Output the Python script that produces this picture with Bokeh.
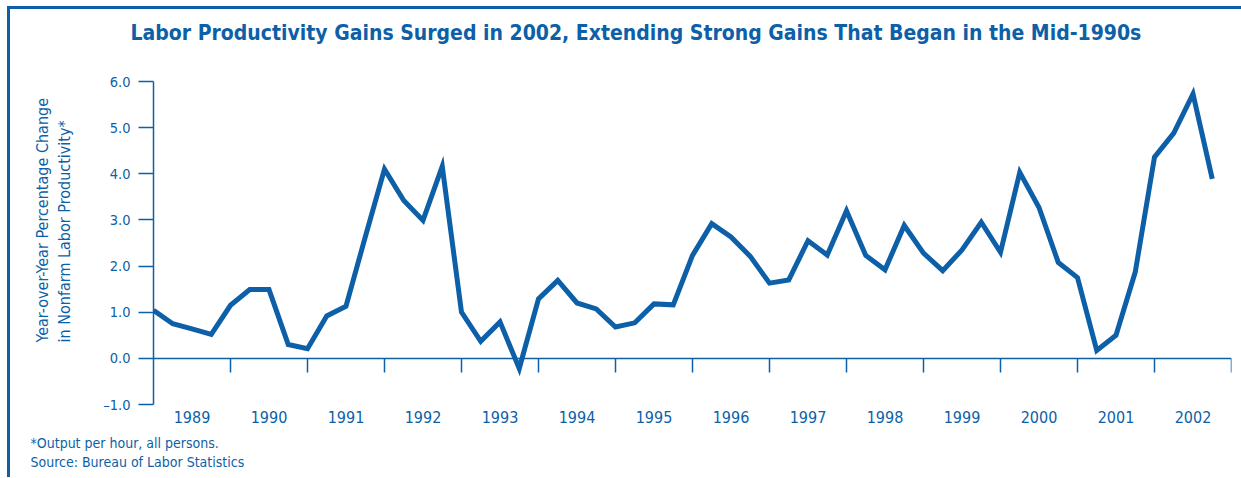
from bokeh.plotting import figure
from bokeh.models import LinearAxis, FixedTicker, Title, Range1d
from bokeh.embed import file_html
from bokeh.resources import INLINE

# ---- data ----
years = list(range(1989, 2003))
quarters_per_year = 4
productivity = [1.04, 0.75, 0.64, 0.52, 1.15, 1.49, 1.49, 0.30, 0.21, 0.92,
                1.13, 2.63, 4.10, 3.42, 2.99, 4.16, 1.00, 0.37, 0.79, -0.22,
                1.29, 1.69, 1.20, 1.07, 0.68, 0.77, 1.18, 1.16, 2.23, 2.92,
                2.63, 2.21, 1.63, 1.70, 2.55, 2.24, 3.20, 2.23, 1.92, 2.88,
                2.28, 1.90, 2.35, 2.95, 2.30, 4.03, 3.27, 2.08, 1.75, 0.17,
                0.50, 1.87, 4.36, 4.88, 5.73, 3.89]
y_ticks = [-1, 0, 1, 2, 3, 4, 5, 6]
y_tick_labels = ["\u20131.0", "0.0", "1.0", "2.0", "3.0", "4.0", "5.0", "6.0"]
year_labels = [str(y) for y in years]

title_text = "Labor Productivity Gains Surged in 2002, Extending Strong Gains That Began in the Mid-1990s"
ylabel_lines = ["Year-over-Year Percentage Change", "in Nonfarm Labor Productivity*"]
footnotes = ["*Output per hour, all persons.", "Source: Bureau of Labor Statistics"]

x_vals = [y + q / quarters_per_year for y in years for q in range(quarters_per_year)]

BLUE = "#0d5fa8"
FONT = "DejaVu Sans Condensed"

p = figure(width=1241, height=477, output_backend="svg", toolbar_location=None,
           x_range=Range1d(years[0], years[-1] + 1), y_range=Range1d(-1, 6),
           min_border_left=153, min_border_right=10, min_border_top=81,
           min_border_bottom=73, x_axis_type=None)
# outer frame lines (top and left) painted on the page behind a transparent canvas
grad = "linear-gradient(%s, %s)" % (BLUE, BLUE)
p.styles = {"background-image": grad + ", " + grad,
            "background-size": "100% 3px, 3px 100%",
            "background-position": "7px 6px, 7px 6px",
            "background-repeat": "no-repeat"}
p.outline_line_color = None
p.xgrid.visible = False
p.ygrid.visible = False
p.background_fill_color = None
p.border_fill_color = None

# main title (outermost), with a spacer title between it and the frame
p.title.text = title_text
p.title.align = "left"
p.title.offset = -23
p.title.standoff = 0
p.title.text_color = BLUE
p.title.text_font = FONT
p.title.text_font_style = "bold"
p.title.text_font_size = "21px"
p.add_layout(Title(text=" ", text_font_size="1px", standoff=34), "above")

# y axis
ya = p.yaxis[0]
ya.ticker = FixedTicker(ticks=y_ticks, minor_ticks=[])
ya.major_label_overrides = {t: l for t, l in zip(y_ticks, y_tick_labels)}
ya.axis_line_color = BLUE
ya.axis_line_width = 1.5
ya.major_tick_line_color = BLUE
ya.major_tick_line_width = 1.5
ya.major_tick_out = 15
ya.major_tick_in = 0
ya.minor_tick_line_color = None
ya.major_label_standoff = 8
ya.major_label_text_color = BLUE
ya.major_label_text_font = FONT
ya.major_label_text_font_size = "14.5px"

# y label (two lines) as a left title
p.add_layout(Title(text="\n".join(ylabel_lines), align="left", offset=62, standoff=52,
                   text_color=BLUE, text_font=FONT, text_font_style="normal",
                   text_font_size="16px", text_line_height=1.2), "left")

# year labels axis (below, no line)
mid_years = [y + 0.5 for y in years]
xa_lab = LinearAxis(ticker=FixedTicker(ticks=mid_years, minor_ticks=[]))
xa_lab.major_label_overrides = {m: l for m, l in zip(mid_years, year_labels)}
xa_lab.axis_line_color = None
xa_lab.major_tick_line_color = None
xa_lab.minor_tick_line_color = None
xa_lab.major_label_standoff = 0
xa_lab.major_label_text_color = BLUE
xa_lab.major_label_text_font = FONT
xa_lab.major_label_text_font_size = "16px"
p.add_layout(xa_lab, "below")

# zero axis with year boundary ticks
boundaries = years[1:] + [years[-1] + 1]
xa_zero = LinearAxis(ticker=FixedTicker(ticks=boundaries, minor_ticks=[]), fixed_location=0)
xa_zero.axis_line_color = BLUE
xa_zero.axis_line_width = 1.5
xa_zero.major_tick_line_color = BLUE
xa_zero.major_tick_line_width = 1.5
xa_zero.major_tick_out = 14
xa_zero.major_tick_in = 0
xa_zero.minor_tick_line_color = None
xa_zero.major_label_text_alpha = 0
xa_zero.major_label_text_font_size = "1px"
xa_zero.major_label_standoff = 0
p.add_layout(xa_zero, "below")

p.line(x_vals, productivity, line_color=BLUE, line_width=5, line_join="miter")

# spacer and footnotes as below titles
p.add_layout(Title(text=" ", text_font_size="1px", standoff=3), "below")
for t, so in [(footnotes[0], 2), (footnotes[1], 0)]:
    p.add_layout(Title(text=t, align="left", offset=-123, standoff=so,
                       text_color=BLUE, text_font=FONT, text_font_style="normal",
                       text_font_size="14px"), "below")

open("out.html", "w").write(file_html(p, INLINE))
